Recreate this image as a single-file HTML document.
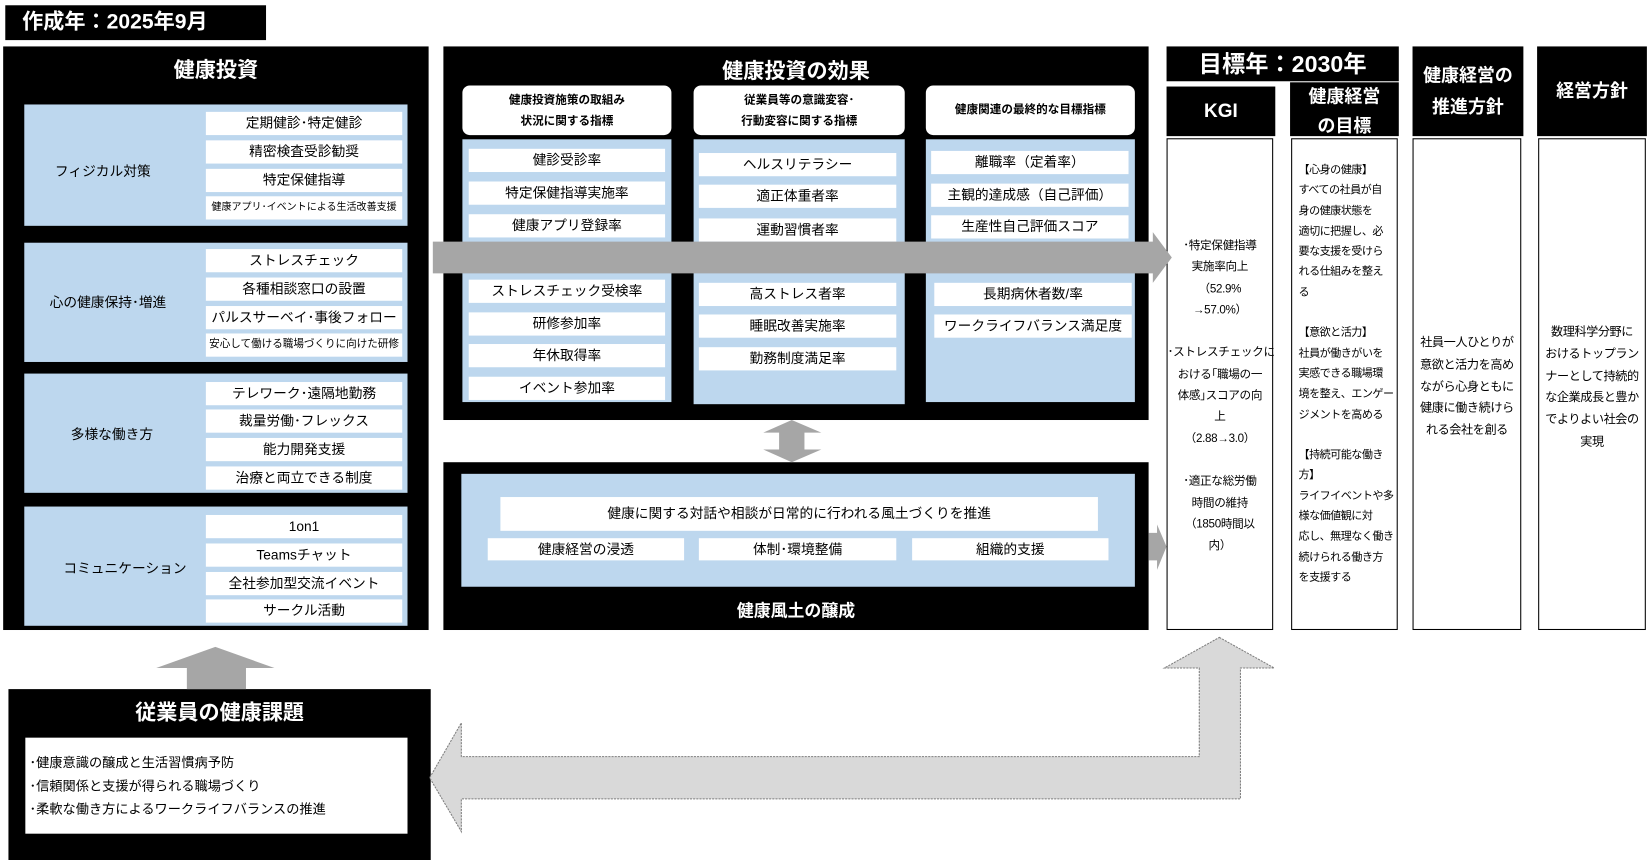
<!DOCTYPE html>
<html><head><meta charset="utf-8"><style>
html,body{margin:0;padding:0;background:#fff;width:1650px;height:860px;overflow:hidden}
#s{position:absolute;left:0;top:0;width:1563px;height:815px;transform:scale(1.0557,1.0553);transform-origin:0 0;font-family:"Liberation Sans","Noto Sans CJK JP",sans-serif;color:#000}
.a{position:absolute;box-sizing:border-box}
.k{background:#000;color:#fff;font-weight:bold;text-align:center}
.b{background:#bdd7ee}
.w{background:#fff;font-size:13px;text-align:center;line-height:21px;white-space:nowrap;overflow:hidden}
.t{font-size:20px}
.lab{font-size:13px}
.col{border:1px solid #000;background:#fff;font-size:11px;line-height:20.3px;white-space:nowrap;letter-spacing:-0.3px}
</style></head><body><div id="s">
<div class="a k" style="left:5px;top:5px;width:247px;height:33px;font-size:20px;line-height:33px;text-align:left;padding-left:16px">作成年：2025年9月</div>

<!-- left panel -->
<div class="a k" style="left:3px;top:44px;width:403px;height:553px"></div>
<div class="a k t" style="left:3px;top:54px;width:403px;line-height:26px;background:none">健康投資</div>

<div class="a b" style="left:23px;top:99px;width:363px;height:115px"></div>
<div class="a lab" style="left:52px;top:152px">フィジカル対策</div>
<div class="a w" style="left:195px;top:106px;width:186px;height:22px">定期健診･特定健診</div>
<div class="a w" style="left:195px;top:133px;width:186px;height:22px">精密検査受診勧奨</div>
<div class="a w" style="left:195px;top:160px;width:186px;height:22px">特定保健指導</div>
<div class="a w" style="left:195px;top:186px;width:186px;height:22px;font-size:9.5px">健康アプリ･イベントによる生活改善支援</div>

<div class="a b" style="left:23px;top:230px;width:363px;height:113px"></div>
<div class="a lab" style="left:47px;top:276px">心の健康保持･増進</div>
<div class="a w" style="left:195px;top:236px;width:186px;height:22px">ストレスチェック</div>
<div class="a w" style="left:195px;top:263px;width:186px;height:22px">各種相談窓口の設置</div>
<div class="a w" style="left:195px;top:290px;width:186px;height:22px">パルスサーベイ･事後フォロー</div>
<div class="a w" style="left:195px;top:316px;width:186px;height:22px;font-size:10px">安心して働ける職場づくりに向けた研修</div>

<div class="a b" style="left:23px;top:354px;width:363px;height:113px"></div>
<div class="a lab" style="left:67px;top:401px">多様な働き方</div>
<div class="a w" style="left:195px;top:362px;width:186px;height:22px">テレワーク･遠隔地勤務</div>
<div class="a w" style="left:195px;top:388px;width:186px;height:22px">裁量労働･フレックス</div>
<div class="a w" style="left:195px;top:415px;width:186px;height:22px">能力開発支援</div>
<div class="a w" style="left:195px;top:442px;width:186px;height:22px">治療と両立できる制度</div>

<div class="a b" style="left:23px;top:480px;width:363px;height:113px"></div>
<div class="a lab" style="left:60px;top:528px">コミュニケーション</div>
<div class="a w" style="left:195px;top:488px;width:186px;height:22px">1on1</div>
<div class="a w" style="left:195px;top:515px;width:186px;height:22px">Teamsチャット</div>
<div class="a w" style="left:195px;top:542px;width:186px;height:22px">全社参加型交流イベント</div>
<div class="a w" style="left:195px;top:568px;width:186px;height:22px">サークル活動</div>

<!-- middle top -->
<div class="a k" style="left:420px;top:44px;width:668px;height:354px"></div>
<div class="a k t" style="left:420px;top:55px;width:668px;line-height:26px;background:none">健康投資の効果</div>

<div class="a" style="left:438px;top:81px;width:198px;height:47px;background:#fff;border-radius:7px;font-size:11px;font-weight:bold;text-align:center;line-height:20px;padding-top:4px">健康投資施策の取組み<br>状況に関する指標</div>
<div class="a b" style="left:438px;top:132px;width:198px;height:249px"></div>
<div class="a w" style="left:444px;top:141px;width:186px;height:22px">健診受診率</div>
<div class="a w" style="left:444px;top:172px;width:186px;height:22px">特定保健指導実施率</div>
<div class="a w" style="left:444px;top:203px;width:186px;height:22px">健康アプリ登録率</div>
<div class="a w" style="left:444px;top:265px;width:186px;height:22px">ストレスチェック受検率</div>
<div class="a w" style="left:444px;top:296px;width:186px;height:22px">研修参加率</div>
<div class="a w" style="left:444px;top:326px;width:186px;height:22px">年休取得率</div>
<div class="a w" style="left:444px;top:357px;width:186px;height:22px">イベント参加率</div>

<div class="a" style="left:657px;top:81px;width:200px;height:47px;background:#fff;border-radius:7px;font-size:11px;font-weight:bold;text-align:center;line-height:20px;padding-top:4px">従業員等の意識変容･<br>行動変容に関する指標</div>
<div class="a b" style="left:657px;top:132px;width:200px;height:251px"></div>
<div class="a w" style="left:662px;top:145px;width:187px;height:22px">ヘルスリテラシー</div>
<div class="a w" style="left:662px;top:175px;width:187px;height:22px">適正体重者率</div>
<div class="a w" style="left:662px;top:207px;width:187px;height:22px">運動習慣者率</div>
<div class="a w" style="left:662px;top:268px;width:187px;height:22px">高ストレス者率</div>
<div class="a w" style="left:662px;top:298px;width:187px;height:22px">睡眠改善実施率</div>
<div class="a w" style="left:662px;top:329px;width:187px;height:22px">勤務制度満足率</div>

<div class="a" style="left:877px;top:81px;width:198px;height:47px;background:#fff;border-radius:7px;font-size:11px;font-weight:bold;text-align:center;line-height:47px">健康関連の最終的な目標指標</div>
<div class="a b" style="left:877px;top:132px;width:198px;height:249px"></div>
<div class="a w" style="left:882px;top:143px;width:187px;height:22px">離職率（定着率）</div>
<div class="a w" style="left:882px;top:174px;width:187px;height:22px">主観的達成感（自己評価）</div>
<div class="a w" style="left:882px;top:204px;width:187px;height:22px">生産性自己評価スコア</div>
<div class="a w" style="left:885px;top:268px;width:187px;height:22px">長期病休者数/率</div>
<div class="a w" style="left:885px;top:298px;width:187px;height:22px">ワークライフバランス満足度</div>

<!-- middle bottom -->
<div class="a k" style="left:420px;top:438px;width:668px;height:159px"></div>
<div class="a b" style="left:437px;top:449px;width:638px;height:107px"></div>
<div class="a w" style="left:474px;top:471px;width:566px;height:32px;line-height:32px">健康に関する対話や相談が日常的に行われる風土づくりを推進</div>
<div class="a w" style="left:462px;top:510px;width:186px;height:21px">健康経営の浸透</div>
<div class="a w" style="left:662px;top:510px;width:187px;height:21px">体制･環境整備</div>
<div class="a w" style="left:864px;top:510px;width:186px;height:21px">組織的支援</div>
<div class="a k" style="left:420px;top:569px;width:668px;font-size:16px;line-height:22px;background:none">健康風土の醸成</div>

<!-- right headers -->
<div class="a k" style="left:1105px;top:44px;width:220px;height:33px;font-size:22px;line-height:33px">目標年：2030年</div>
<div class="a k" style="left:1105px;top:82px;width:103px;height:47px;font-size:18px;line-height:47px">KGI</div>
<div class="a k" style="left:1222px;top:78px;width:103px;height:51px;font-size:17px;line-height:28px;overflow:hidden">健康経営<br>の目標</div>
<div class="a k" style="left:1338px;top:44px;width:105px;height:85px;font-size:17px;line-height:30px;padding-top:13px">健康経営の<br>推進方針</div>
<div class="a k" style="left:1456px;top:44px;width:104px;height:85px;font-size:17px;line-height:85px">経営方針</div>

<div class="a col" style="left:1105px;top:131px;width:101px;height:466px;text-align:center;padding-top:91px">･特定保健指導<br>実施率向上<br>（52.9%<br>→57.0%）<br><br>･ストレスチェックに<br>おける｢職場の一<br>体感｣スコアの向<br>上<br>（2.88→3.0）<br><br>･適正な総労働<br>時間の維持<br>（1850時間以<br>内）</div>
<div class="a col" style="left:1223px;top:131px;width:101px;height:466px;padding:20px 0 0 6px;font-size:10.5px;line-height:19.3px;letter-spacing:-0.5px">【心身の健康】<br>すべての社員が自<br>身の健康状態を<br>適切に把握し、必<br>要な支援を受けら<br>れる仕組みを整え<br>る<br><br>【意欲と活力】<br>社員が働きがいを<br>実感できる職場環<br>境を整え、エンゲー<br>ジメントを高める<br><br>【持続可能な働き<br>方】<br>ライフイベントや多<br>様な価値観に対<br>応し、無理なく働き<br>続けられる働き方<br>を支援する</div>
<div class="a col" style="left:1338px;top:131px;width:103px;height:466px;text-align:center;padding-top:183px;line-height:20.8px;font-size:11.5px;letter-spacing:-0.4px">社員一人ひとりが<br>意欲と活力を高め<br>ながら心身ともに<br>健康に働き続けら<br>れる会社を創る</div>
<div class="a col" style="left:1457px;top:131px;width:102px;height:466px;text-align:center;padding-top:173px;line-height:20.8px;font-size:11.5px;letter-spacing:-0.4px">数理科学分野に<br>おけるトップラン<br>ナーとして持続的<br>な企業成長と豊か<br>でよりよい社会の<br>実現</div>

<!-- bottom left -->
<div class="a k" style="left:8px;top:653px;width:400px;height:162px"></div>
<div class="a k t" style="left:8px;top:663px;width:400px;line-height:26px;background:none">従業員の健康課題</div>
<div class="a" style="left:24px;top:699px;width:362px;height:91px;background:#fff;font-size:12.5px;line-height:22px;padding:13px 0 0 4px">･健康意識の醸成と生活習慣病予防<br>･信頼関係と支援が得られる職場づくり<br>･柔軟な働き方によるワークライフバランスの推進</div>

<!-- arrows -->
<svg class="a" style="left:0;top:0" width="1563" height="815">
<polygon points="410,229 1092,229 1092,220 1110,244 1092,268 1092,259 410,259" fill="#a6a6a6"/>
<polygon points="750,398 778,410 762,410 762,426 778,426 750,438 723,426 738,426 738,410 723,410" fill="#a6a6a6"/>
<polygon points="1088,505 1096,505 1096,497 1105,518 1096,540 1096,531 1088,531" fill="#a6a6a6"/>
<polygon points="204,613 260,633 233,633 233,653 177,653 177,633 148,633" fill="#a6a6a6"/>
<polygon points="1155,604 1207,633 1175,633 1175,757 437,757 437,788 407,737 437,685 437,717 1136,717 1136,633 1103,633" fill="#d9d9d9" stroke="#7f7f7f" stroke-width="1" stroke-dasharray="2,1"/>
</svg>
</div></body></html>
